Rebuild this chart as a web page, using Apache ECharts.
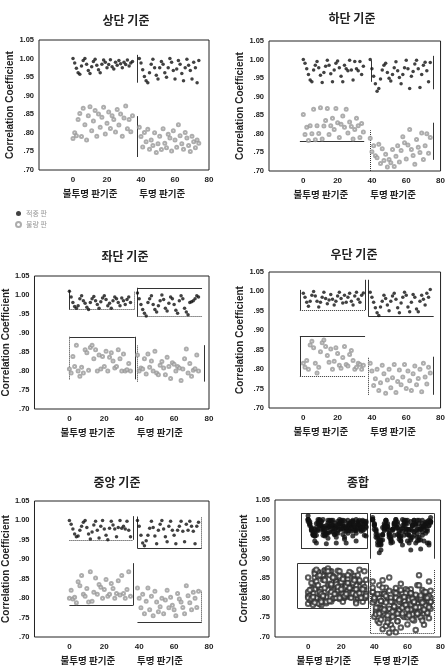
<!DOCTYPE html>
<html>
<head>
<meta charset="utf-8">
<script src="https://cdn.jsdelivr.net/npm/echarts@6/dist/echarts.min.js"></script>
<style>
    html, body {margin: 0; padding: 0; background: #fff;}
    #chart {width: 448px; height: 668px;}
</style>
</head>
<body>
<div id="chart"></div>
<script>
    // x 위치 (불투명 판기준 / 투명 판기준)
    var xLeft = [0,1,2,3,4,5,6,7,8,9,10,11,12,13,14,15,16,17,18,19,20,21,22,23,24,25,26,27,28,29,30,31,32,33,34,35];
    var xRight = [39,40,41,42,43,44,45,46,47,48,49,50,51,52,53,54,55,56,57,58,59,60,61,62,63,64,65,66,67,68,69,70,71,72,73,74];

    var titles = ['상단 기준', '하단 기준', '좌단 기준', '우단 기준', '중앙 기준', '종합'];
    var yTicks = ['1.05', '1.00', '.95', '.90', '.85', '.80', '.75', '.70'];
    var xTicks = [0, 20, 40, 60, 80];
    var legendNames = ['적중 판', '불량 판'];

    // 상단 기준
    var p1FillL = [1.000,.988,.974,.962,.958,.980, .995,1.000,.985,.968,.960,.978, .992,.998,.982,.970,.962,.985,
                   .996,.990,.975,.984,.997,.978, .972,.990,.982,.995,.986,.975, .990,.984,.996,.980,.988,.992];
    var p1FillR = [1.000,.988,.970,.952,.940,.935, .962,.985,.998,.975,.955,.945, .975,.992,.985,.962,.950,.975,
                   1.000,.990,.968,.945,.972,.995, .985,.960,.940,.975,.998,.982, .968,.945,.990,.975,.935,.995];
    var p1OpenL = [.785,.800,.792,.836,.852,.790,.866,.822,.781,.846,.870,.806,.832,.860,.791,.851,.815,.842,
                   .869,.797,.826,.856,.812,.846,.836,.802,.863,.821,.851,.791,.840,.872,.811,.836,.803,.846];
    var p1OpenR = [.815,.790,.762,.801,.776,.810,.756,.781,.766,.800,.747,.771,.791,.755,.811,.772,.760,.796,
                   .786,.751,.806,.781,.761,.822,.792,.771,.756,.801,.786,.766,.750,.791,.776,.760,.781,.772];

    // 하단 기준
    var p2FillL = [1.000,.990,.975,.960,.945,.940, .972,.985,.995,.978,.958,.938, .965,.982,.998,.985,.962,.940,
                   .972,.990,.996,.978,.955,.940, .985,.975,.970,.998,.972,.945, .995,.975,.970,.995,.960,.982];
    var p2FillR = [1.000,.975,.955,.935,.915,.922, .948,.972,.985,.990,.965,.950, .942,.960,.978,.994,.970,.952,
                   .935,.960,.978,.998,.975,.922, .955,.968,.988,.998,.975,.925, .960,.985,.993,.970,.940,.992];
    var p2OpenL = [.852,.798,.818,.782,.822,.800,.866,.784,.822,.801,.870,.786,.821,.836,.868,.798,.822,.842,
                   .812,.868,.830,.790,.826,.848,.818,.866,.802,.832,.820,.786,.812,.842,.822,.790,.828,.805];
    var p2OpenR = [.788,.752,.768,.741,.736,.772,.720,.760,.728,.745,.711,.731,.722,.758,.712,.740,.768,.724,
                   .755,.792,.776,.732,.770,.812,.758,.742,.718,.785,.764,.750,.802,.731,.768,.800,.748,.790];

    // 좌단 기준
    var p3FillL = [1.010,.995,.980,.970,.965,.972, .990,.998,.985,.978,.968,.962, .980,.990,.996,.985,.975,.965,
                   .982,.992,.998,.988,.972,.978, .965,.985,.995,.990,.980,.972, .992,.985,.975,.988,.995,.980];
    var p3FillR = [1.005,.990,.975,.962,.952,.945, .980,.990,.998,.975,.962,.955, .972,.985,1.000,.988,.965,.958,
                   .978,.995,.990,.975,.960,.952, .985,.998,.990,.965,.955,.948, .980,.982,.985,.990,.998,.995];
    var p3OpenL = [.805,.795,.838,.812,.868,.800,.786,.810,.795,.856,.848,.802,.862,.868,.832,.856,.800,.842,
                   .805,.838,.812,.852,.800,.836,.848,.826,.808,.812,.856,.832,.800,.845,.800,.803,.820,.800];
    var p3OpenR = [.842,.800,.808,.805,.832,.792,.845,.810,.826,.800,.852,.795,.790,.815,.825,.808,.790,.836,
                   .812,.780,.822,.818,.800,.812,.808,.775,.805,.832,.858,.795,.820,.786,.802,.806,.842,.800];

    // 우단 기준
    var p4FillL = [.995,.985,.972,.962,.975,.990, 1.000,.988,.975,.960,.972,.985, .998,.982,.968,.978,.992,.980,
                   .965,.975,.988,.998,.982,.970, .990,.972,.985,.995,.975,.965, .988,.998,.980,.972,.990,.996];
    var p4FillR = [.998,.985,.972,.958,.945,.938, .960,.975,.990,.982,.965,.950, .975,.988,.995,.980,.958,.945,
                   .970,.985,.998,.990,.960,.948, .972,.992,.985,.955,.948,.975, .990,.980,.965,.995,.985,1.005];
    var p4OpenL = [.815,.805,.822,.800,.862,.872,.855,.815,.790,.805,.845,.868,.875,.858,.835,.818,.852,.800,
                   .820,.855,.840,.810,.802,.830,.858,.812,.808,.838,.848,.822,.800,.805,.815,.812,.800,.810];
    var p4OpenR = [.815,.795,.758,.775,.800,.745,.765,.810,.788,.738,.772,.800,.752,.778,.812,.740,.768,.798,
                   .760,.780,.812,.750,.795,.770,.745,.788,.808,.760,.776,.800,.742,.815,.780,.762,.805,.790];

    // 중앙 기준
    var p5FillL = [1.000,.990,.978,.965,.958,.960, .975,.985,.995,1.000,.982,.965, .952,.970,.988,.998,.975,.955,
                   .985,1.000,.978,.962,.950,.980, .998,.988,.978,.958,.982,1.000, .980,.985,.978,.998,.975,.958];
    var p5FillR = [1.000,.985,.962,.942,.935,.948, .962,.980,.998,.982,.960,.940, .975,.990,1.000,.978,.958,.945,
                   .985,.998,.975,.962,.940,.975, .985,.998,.972,.945,.990,.975, .998,.985,.972,.940,.985,.995];
    var p5OpenL = [.800,.820,.798,.802,.788,.842,.832,.858,.810,.805,.825,.790,.868,.792,.815,.852,.810,.835,
                   .828,.800,.822,.848,.805,.810,.838,.825,.800,.812,.845,.808,.858,.812,.800,.822,.868,.805];
    var p5OpenR = [.826,.800,.775,.810,.760,.792,.826,.770,.805,.755,.818,.790,.765,.778,.800,.760,.795,.820,
                   .775,.802,.782,.770,.755,.812,.798,.790,.776,.760,.832,.806,.788,.770,.815,.800,.776,.818];

    // 구간 표시선 [x1, y1, x2, y2, 선종류]
    var p1Segs = [[38,.935,38,1.01,'solid'], [38,.735,38,.845,'solid']];
    var p2Segs = [[-2,.78,35.5,.78,'solid'], [39.5,.94,39.5,.998,'solid'], [76,.92,76,1.01,'solid'],
                  [76,.73,76,.83,'solid'], [39,.70,39,.81,'dotted']];
    var p3Segs = [[0,.962,0,1.013,'solid'], [0,.962,37,.962,'dotted'], [37,.962,37,1.01,'dotted'],
                  [39,1.019,76,1.019,'solid'], [39,.943,39,1.019,'solid'], [39,.943,76,.943,'dotted'],
                  [0,.89,37.5,.89,'solid'], [37.5,.778,37.5,.89,'solid'], [0,.778,0,.89,'dotted'],
                  [77,.772,77,.868,'solid'], [39,.772,39,.868,'dotted']];
    var p4Segs = [[-2,.952,-2,1.004,'solid'], [36,.952,36,1.03,'solid'], [-2,.952,36,.952,'dotted'],
                  [38,.935,38,1.03,'solid'], [38,.935,76,.935,'solid'],
                  [-2,.885,36,.885,'solid'], [-2,.781,-2,.885,'solid'], [-2,.781,36,.781,'dotted'],
                  [75.6,.734,75.6,.832,'solid'], [38,.734,38,.832,'dotted']];
    var p5Segs = [[36.4,.95,36.4,1.011,'solid'], [0,.95,36.4,.95,'dotted'],
                  [39,.928,39,1.01,'solid'], [39,.928,75.7,.928,'solid'], [75.7,.928,75.7,1.01,'dotted'],
                  [36.4,.781,36.4,.89,'solid'], [0,.781,36.4,.781,'solid'],
                  [39,.737,75.7,.737,'solid'], [75.7,.737,75.7,.82,'dotted']];
    var p6Segs = [[-4.3,.926,-4.3,1.016,'solid'], [-4.3,1.016,35.9,1.016,'solid'], [35.9,.926,35.9,1.016,'solid'], [-4.3,.926,35.9,.926,'solid'],
                  [37.8,.90,37.8,1.016,'solid'], [37.8,1.016,76,1.016,'solid'], [76,.90,76,1.016,'solid'],
                  [-6.3,.773,-6.3,.888,'solid'], [-6.3,.888,36.5,.888,'solid'], [36.5,.773,36.5,.888,'solid'], [-6.3,.773,36.5,.773,'solid'],
                  [37.8,.71,37.8,.871,'dotted'], [76,.71,76,.871,'dotted'], [37.8,.71,76,.71,'dotted']];

    // 종합 = 다섯 기준을 모두 합친 것
    var fillLs = [p1FillL, p2FillL, p3FillL, p4FillL, p5FillL];
    var fillRs = [p1FillR, p2FillR, p3FillR, p4FillR, p5FillR];
    var openLs = [p1OpenL, p2OpenL, p3OpenL, p4OpenL, p5OpenL];
    var openRs = [p1OpenR, p2OpenR, p3OpenR, p4OpenR, p5OpenR];

    function pairs(xs, ys) {
        return ys.map(function (y, i) { return [xs[i], y]; });
    }
    function groupData(lefts, rights) {
        var out = [];
        lefts.forEach(function (l) { out = out.concat(pairs(xLeft, l)); });
        rights.forEach(function (r) { out = out.concat(pairs(xRight, r)); });
        return out;
    }

    var panels = [
        {fill: groupData([p1FillL], [p1FillR]), open: groupData([p1OpenL], [p1OpenR]), segs: p1Segs},
        {fill: groupData([p2FillL], [p2FillR]), open: groupData([p2OpenL], [p2OpenR]), segs: p2Segs},
        {fill: groupData([p3FillL], [p3FillR]), open: groupData([p3OpenL], [p3OpenR]), segs: p3Segs},
        {fill: groupData([p4FillL], [p4FillR]), open: groupData([p4OpenL], [p4OpenR]), segs: p4Segs},
        {fill: groupData([p5FillL], [p5FillR]), open: groupData([p5OpenL], [p5OpenR]), segs: p5Segs},
        {fill: groupData(fillLs, fillRs), open: groupData(openLs, openRs), segs: p6Segs}
    ];

    // 각 패널 위치 (픽셀)
    var grids = [
        {left: 39, top: 40, width: 170, height: 130},
        {left: 269, top: 41, width: 172, height: 130},
        {left: 34, top: 276, width: 175, height: 133},
        {left: 269, top: 272, width: 175, height: 136},
        {left: 34, top: 501, width: 175, height: 136},
        {left: 275, top: 500, width: 170, height: 137}
    ];
    var titlePos = [[121, 9], [347, 7], [120, 245], [349, 243], [112, 471], [353, 471]];
    var yNameGap = [19, 20, 19, 20, 19, 26];

    var cjk = '"Noto Sans CJK KR", sans-serif';
    var option = {
        animation: false,
        backgroundColor: '#fff',
        title: [],
        legend: {
            orient: 'vertical',
            left: 10,
            top: 205,
            itemWidth: 5,
            itemHeight: 5,
            itemGap: 4,
            textStyle: {fontSize: 7, color: '#999', fontFamily: cjk},
            data: [{name: legendNames[0], icon: 'circle'}, {name: legendNames[1], icon: 'emptyCircle'}]
        },
        grid: [],
        xAxis: [],
        yAxis: [],
        series: []
    };

    panels.forEach(function (p, i) {
        option.title.push({
            text: titles[i],
            left: titlePos[i][0],
            top: titlePos[i][1],
            textAlign: 'center',
            textStyle: {fontSize: 12, fontWeight: 'bold', color: '#222', fontFamily: cjk}
        });
        option.grid.push(Object.assign({show: true, borderColor: '#222', borderWidth: 1}, grids[i]));
        option.xAxis.push({
            gridIndex: i,
            type: 'value',
            min: -20,
            max: 80,
            interval: 20,
            axisLine: {show: false},
            axisTick: {show: false},
            splitLine: {show: false},
            axisLabel: {
                fontSize: 8, fontWeight: 'bold', color: '#222', margin: 6,
                formatter: function (v) { return xTicks.indexOf(v) >= 0 ? String(v) : ''; }
            },
            name: '{a|불투명 판기준}{b|투명 판기준}',
            nameLocation: 'middle',
            nameGap: 19,
            nameTextStyle: {
                rich: {
                    a: {fontSize: 9.5, fontWeight: 'bold', color: '#222', fontFamily: cjk, padding: [0, 22, 0, 0]},
                    b: {fontSize: 9.5, fontWeight: 'bold', color: '#222', fontFamily: cjk}
                }
            }
        });
        option.yAxis.push({
            gridIndex: i,
            type: 'value',
            min: 0.70,
            max: 1.05,
            interval: 0.05,
            axisLine: {show: false},
            axisTick: {show: false},
            splitLine: {show: false},
            axisLabel: {
                fontSize: 7.5, fontWeight: 'bold', color: '#222', margin: 5,
                formatter: function (v) { return yTicks[Math.round((1.05 - v) / 0.05)]; }
            },
            name: 'Correlation Coefficient',
            nameLocation: 'middle',
            nameGap: yNameGap[i],
            nameTextStyle: {fontSize: 10, fontWeight: 'bold', color: '#222', fontFamily: 'Liberation Sans'}
        });
        var big = i === 5;
        option.series.push({
            name: i === 0 ? legendNames[1] : 'open' + i,
            type: 'scatter',
            xAxisIndex: i,
            yAxisIndex: i,
            symbol: 'emptyCircle',
            symbolSize: big ? 4.5 : 3,
            itemStyle: {color: big ? '#333' : '#999', borderWidth: big ? 1.1 : 0.7},
            data: p.open
        });
        option.series.push({
            name: i === 0 ? legendNames[0] : 'fill' + i,
            type: 'scatter',
            xAxisIndex: i,
            yAxisIndex: i,
            symbol: 'circle',
            symbolSize: big ? 5 : 3.5,
            itemStyle: {color: '#111'},
            data: p.fill
        });
        option.series.push({
            type: 'lines',
            coordinateSystem: 'cartesian2d',
            xAxisIndex: i,
            yAxisIndex: i,
            silent: true,
            lineStyle: {color: '#333', width: 1, opacity: 1},
            data: p.segs.map(function (s) {
                return {coords: [[s[0], s[1]], [s[2], s[3]]], lineStyle: {type: s[4]}};
            })
        });
    });

    var myChart = echarts.init(document.getElementById('chart'));
    myChart.setOption(option);
</script>
</body>
</html>
